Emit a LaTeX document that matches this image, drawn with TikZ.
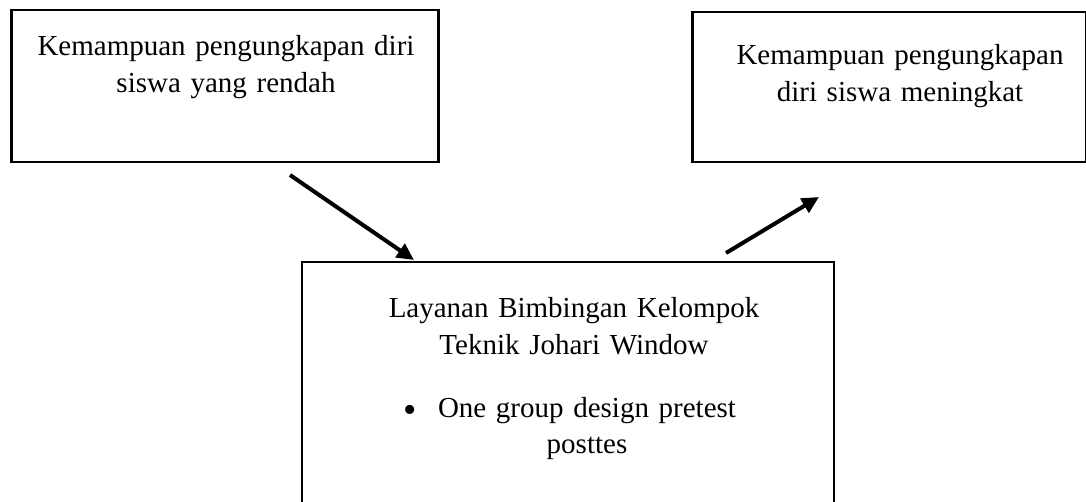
\documentclass[tikz,border=0pt]{standalone}
\usepackage{fontspec}
\setmainfont{Liberation Serif}
\usetikzlibrary{arrows.meta}
\begin{document}
\begin{tikzpicture}[x=1pt,y=-1pt,
  box/.style={draw=black,line width=2.5pt,inner sep=0pt,anchor=north west},
  txt/.style={inner sep=0pt,anchor=base,align=center,font=\fontsize{29}{36.5}\selectfont},
  conn/.style={line width=4pt,-{Triangle[length=17pt,width=16pt]}}]
\useasboundingbox (0,0) rectangle (1086,502);
\clip (0,0) rectangle (1086,502);
\fill[white] (0,0) rectangle (1086,502);
% boxes
\node[box,minimum width=427pt,minimum height=152pt] (low) at (10,9) {};
\node[box,minimum width=394pt,minimum height=150pt] (high) at (691,11) {};
\node[box,line width=2.2pt,minimum width=532pt,minimum height=280pt] (mid) at (301,261) {};
% texts
\node[txt,text width=420pt] (lowtxt) at (226,56) {Kemampuan pengungkapan diri\\siswa yang rendah};
\node[txt,text width=380pt] (hightxt) at (900,65) {Kemampuan pengungkapan\\diri siswa meningkat};
\node[txt,text width=500pt] (midtxt) at (574,318) {Layanan Bimbingan Kelompok\\Teknik Johari Window};
\node[txt,font=\fontsize{38}{40}\selectfont] (bul) at (410.5,422) {•};
\node[txt,text width=320pt] (bultxt) at (587,417) {One group design pretest\\posttes};
% connectors
\coordinate (a1) at (290,175);
\coordinate (a2) at (414,260);
\coordinate (b1) at (726,253);
\coordinate (b2) at (819,197);
\draw[conn] (a1) -- (a2);
\draw[conn] (b1) -- (b2);
\end{tikzpicture}
\end{document}
